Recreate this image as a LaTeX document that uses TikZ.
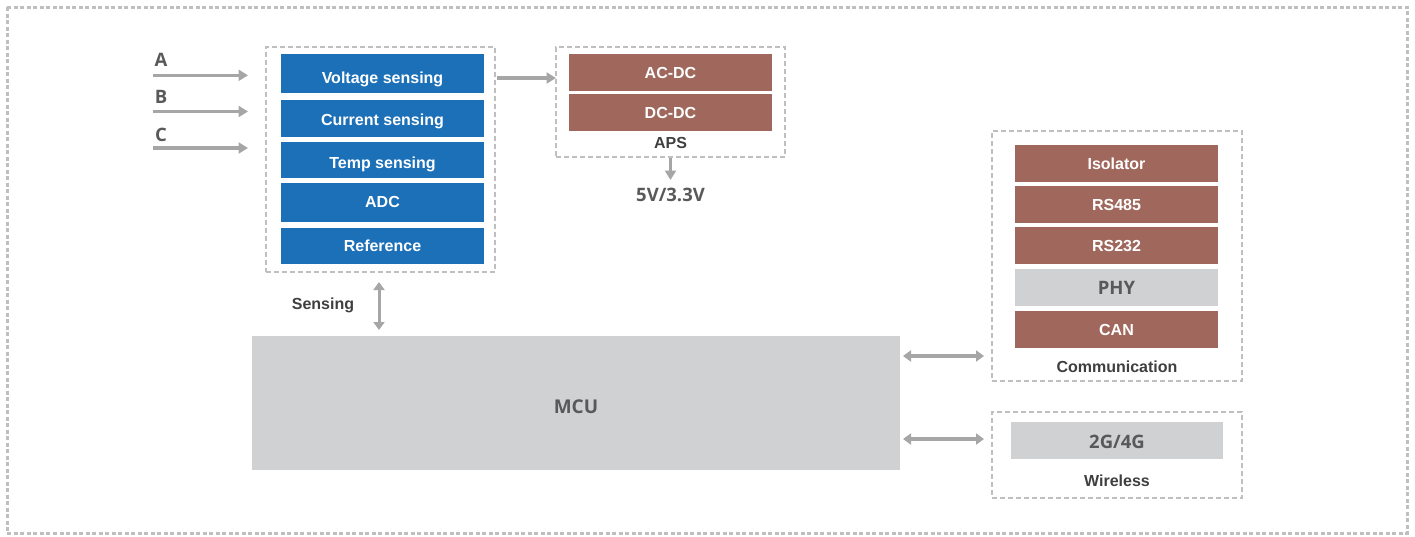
\documentclass[tikz,border=0pt]{standalone}
\usepackage{fontspec}
\setmainfont{Liberation Sans}
\newfontfamily\osans{Open Sans}
\usetikzlibrary{arrows.meta}
\definecolor{blueb}{HTML}{1C70B8}
\definecolor{brownb}{HTML}{A0685C}
\definecolor{grayb}{HTML}{D0D1D3}
\definecolor{arrowc}{HTML}{A6A6A6}
\definecolor{dashc}{HTML}{BFBFBF}
\definecolor{darkt}{HTML}{3F3F3F}
\definecolor{midt}{HTML}{595959}
\tikzset{
  blk/.style={inner sep=0pt, minimum width=203pt, minimum height=37pt,
    text height=11.4pt, text depth=0pt,
    text=white, font=\fontsize{16}{19}\selectfont\bfseries},
  blueblk/.style={blk, fill=blueb},
  brownblk/.style={blk, fill=brownb},
  grayblk/.style={blk, fill=grayb, text=midt, text height=13.5pt,
    font=\osans\fontsize{18.5}{22}\selectfont\bfseries},
  grp/.style={draw=dashc, line width=1.5pt, dash pattern=on 5pt off 3pt, inner sep=0pt},
  lbl/.style={text=darkt, font=\fontsize{16}{19}\selectfont\bfseries, inner sep=0pt},
  olbl/.style={text=midt, font=\osans\fontsize{18.5}{22}\selectfont\bfseries, inner sep=0pt},
  arr/.style={draw=arrowc, line width=3.6pt, -{Triangle[length=9.5pt,width=11pt]}},
  darr/.style={draw=arrowc, line width=3.4pt, {Triangle[length=8pt,width=11pt]}-{Triangle[length=8pt,width=11pt]}},
}
\begin{document}
\begin{tikzpicture}[x=1pt,y=-1pt]
\useasboundingbox (0,0) rectangle (1415,536);
% outer frame
\draw[dashc, line width=3pt, dash pattern=on 4pt off 2.5pt] (7,7) rectangle (1407,533);

% sensing group
\node[grp, minimum width=229pt, minimum height=225pt] (sens) at (380.5,159.5) {};
\node[blueblk, minimum height=39pt, text height=19.4pt] (volt) at (382.5,73.5) {Voltage sensing};
\node[blueblk, text height=13.4pt] (curr) at (382.5,118.5) {Current sensing};
\node[blueblk, minimum height=36pt, text height=16.4pt] (temp) at (382.5,160) {Temp sensing};
\node[blueblk, minimum height=39pt, text depth=2.4pt] (adc) at (382.5,202.5) {ADC};
\node[blueblk, minimum height=36pt] (ref) at (382.5,246) {Reference};

% inputs
\coordinate (a0) at (153,75.3); \coordinate (a1) at (248,75.3);
\coordinate (b0) at (153,111.5); \coordinate (b1) at (248,111.5);
\coordinate (c0) at (153,148); \coordinate (c1) at (248,148);
\node[olbl] (la) at (161,60) {A};
\node[olbl] (lb) at (161,97) {B};
\node[olbl] (lc) at (161,135) {C};
\draw[arr] (a0) -- (a1);
\draw[arr] (b0) -- (b1);
\draw[arr] (c0) -- (c1);

% APS group
\node[grp, minimum width=229pt, minimum height=110pt] (aps) at (670.5,102) {};
\node[brownblk] (acdc) at (670.5,72.5) {AC-DC};
\node[brownblk] (dcdc) at (670.5,112.5) {DC-DC};
\node[lbl] (apsl) at (670.5,143) {APS};
\coordinate (sa0) at (497,78); \coordinate (sa1) at (556,78);
\draw[arr] (sa0) -- (sa1);
\coordinate (vout) at (670.5,180);
\draw[arr, line width=3.4pt] (aps.south) -- (vout);
\node[olbl] (v) at (670.5,195) {5V/3.3V};

% MCU
\node[inner sep=0pt, fill=grayb, minimum width=648pt, minimum height=134pt,
  text height=21.5pt, text depth=0pt,
  text=midt, font=\osans\fontsize{19}{22}\selectfont\bfseries] (mcu) at (576,403) {MCU};
\coordinate (s0) at (379,282); \coordinate (s1) at (379,330);
\draw[darr, line width=3pt] (s0) -- (s1);
\node[lbl] (sl) at (323,305) {Sensing};

% Communication
\node[grp, minimum width=250pt, minimum height=250pt] (comm) at (1117,256) {};
\node[brownblk] (iso) at (1116.5,163.5) {Isolator};
\node[brownblk] (rs485) at (1116.5,204.5) {RS485};
\node[brownblk] (rs232) at (1116.5,245.5) {RS232};
\node[grayblk] (phy) at (1116.5,287.5) {PHY};
\node[brownblk] (can) at (1116.5,329.5) {CAN};
\node[lbl] (comml) at (1117,367) {Communication};

% Wireless
\node[grp, minimum width=250pt, minimum height=86pt] (wl) at (1117,455) {};
\node[grayblk, minimum width=212pt, text height=16pt] (g4) at (1117,440.5) {2G/4G};
\node[lbl] (wll) at (1117,481) {Wireless};

\coordinate (m0) at (903,356); \coordinate (m1) at (984,356);
\coordinate (w0) at (903,439); \coordinate (w1) at (984,439);
\draw[darr] (m0) -- (m1);
\draw[darr] (w0) -- (w1);
\end{tikzpicture}
\end{document}
